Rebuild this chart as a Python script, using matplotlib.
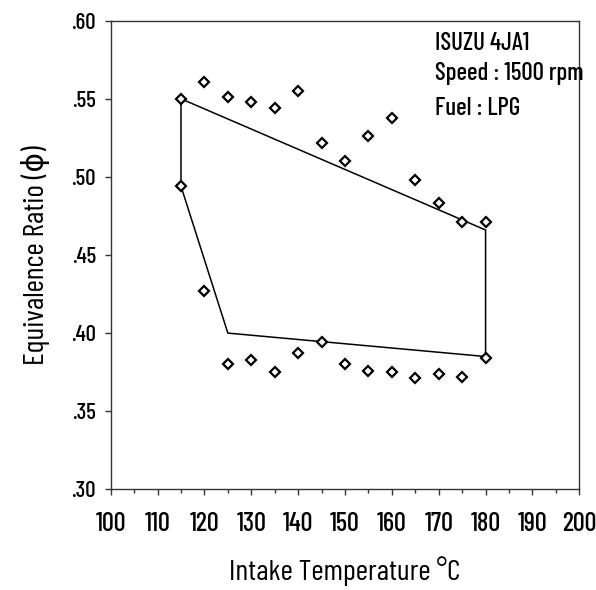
import matplotlib
matplotlib.use('Agg')
import matplotlib.pyplot as plt
from matplotlib.ticker import MultipleLocator, FuncFormatter

plt.rcParams['font.family'] = ['Barlow Condensed', 'DejaVu Sans']
plt.rcParams['font.weight'] = 500

# measured points (upper and lower limits)
upper_temp = [115, 120, 125, 130, 135, 140, 145, 150, 155, 160, 165, 170, 175, 180]
upper_phi = [.550, .561, .551, .548, .544, .555, .522, .510, .526, .538, .498, .483, .471, .471]
lower_temp = [115, 120, 125, 130, 135, 140, 145, 150, 155, 160, 165, 170, 175, 180]
lower_phi = [.494, .427, .380, .383, .375, .387, .394, .380, .376, .375, .371, .374, .372, .384]

# operating envelope
env_temp = [115, 180, 180, 125, 115, 115]
env_phi = [.550, .466, .385, .400, .494, .550]

notes = ['ISUZU 4JA1', 'Speed : 1500 rpm', 'Fuel : LPG']
notes_y = [.5812, .5620, .5396]

fig = plt.figure(figsize=(5.96, 5.90), dpi=100)
ax = fig.add_axes([110.7 / 596, 1 - 489.3 / 590, (579.3 - 110.7) / 596, (489.3 - 20.7) / 590])

ax.plot(env_temp, env_phi, color='black', lw=1.1, zorder=2)
ax.plot(upper_temp, upper_phi, 'D', ms=5.5, mfc='white', mec='black', mew=1.6, zorder=3)
ax.plot(lower_temp, lower_phi, 'D', ms=5.5, mfc='white', mec='black', mew=1.6, zorder=3)

ax.set_xlim(100, 200)
ax.set_ylim(.30, .60)
ax.xaxis.set_major_locator(MultipleLocator(10))
ax.xaxis.set_minor_locator(MultipleLocator(5))
ax.yaxis.set_major_locator(MultipleLocator(.05))
ax.yaxis.set_major_formatter(FuncFormatter(lambda v, p: ('%.2f' % v)[1:]))

ax.tick_params(axis='both', which='both', direction='out', width=1, color='#333333')
ax.tick_params(axis='x', which='major', length=4, pad=12, labelsize=19)
ax.tick_params(axis='x', which='minor', length=3)
ax.tick_params(axis='y', length=4.5, pad=6, labelsize=16.5)
for s in ax.spines.values():
    s.set_linewidth(1.0)
    s.set_color('#333333')

ax.set_xlabel('Intake Temperature \u00b0C', fontsize=21.5, labelpad=15)
ax.set_ylabel('Equivalence Ratio (\u03d5)', fontsize=21.5, labelpad=15)

for t, y in zip(notes, notes_y):
    ax.text(169.2, y, t, fontsize=18, va='baseline', ha='left')

fig.savefig('out.png', dpi=100)
